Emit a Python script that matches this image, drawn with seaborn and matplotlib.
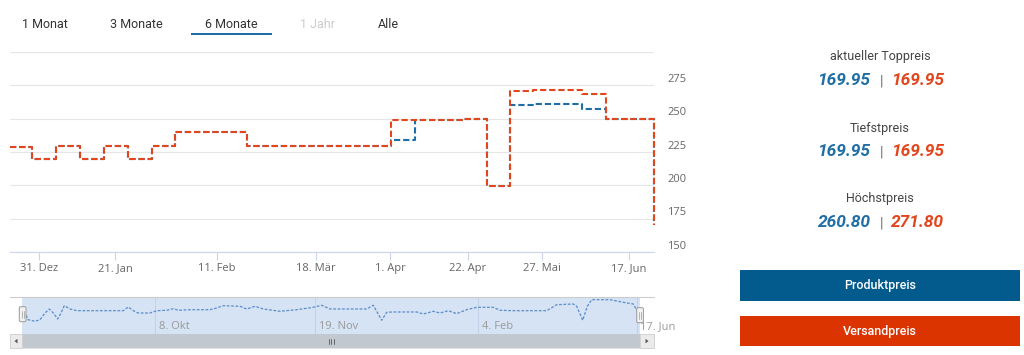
import numpy as np
import pandas as pd
import matplotlib
matplotlib.use("Agg")
import matplotlib.pyplot as plt
import seaborn as sns
from matplotlib.patches import Rectangle, FancyBboxPatch, Polygon

# ---------------- data ----------------
tab_labels = ["1 Monat", "3 Monate", "6 Monate", "1 Jahr", "Alle"]

x_tick_pos = [29, 105, 207, 306, 380, 458, 532, 619]
x_tick_labels = ["31. Dez", "21. Jan", "11. Feb", "18. Mär", "1. Apr", "22. Apr", "27. Mai", "17. Jun"]
y_ticks = [150, 175, 200, 225, 250, 275, 300]

step_x = [0, 22.3, 45.7, 70, 94, 117.7, 142.3, 165, 237.3, 380.7, 405.3, 452.7,
          476.7, 500.3, 523, 571.7, 596, 644]
produktpreis = [228.9, 220.0, 229.7, 220.0, 229.7, 220.0, 229.7, 240.0, 229.2, 233.7, 248.7, 249.5,
                199.7, 260.0, 260.8, 257.0, 249.5, 169.95]
versandpreis = [228.9, 220.0, 229.7, 220.0, 229.7, 220.0, 229.7, 240.0, 229.2, 248.7, 248.7, 249.5,
                199.7, 271.0, 271.8, 268.2, 249.5, 169.95]

nav_x = [23, 28, 35, 40, 45, 49.3, 53.3, 57.7, 60.7, 64.3, 70, 76.7, 123.3, 128.3, 133.3, 138, 150,
         156.7, 166.7, 173.3, 178.3, 190, 210, 216.7, 223.3, 240, 246.7, 255, 263.3, 280, 296.7,
         313.3, 321.7, 330, 346.7, 366.7, 373.3, 381.7, 386.7, 393, 416.7, 423.3, 433.3, 440,
         448.3, 456.7, 466.7, 476.7, 493.3, 500, 513, 546.7, 556.7, 573.3, 576.7, 582.7, 587.3,
         591.7, 610, 623.3, 633.3, 638.3]
nav_y = [243.4, 194.1, 187.9, 194.1, 220.1, 235.6, 220.1, 196.8, 217.4, 248.4, 235.6, 229.0, 229.0,
         243.4, 229.0, 220.1, 220.1, 229.0, 230.6, 236.8, 230.6, 232.9, 232.9, 239.5, 248.4, 246.1,
         235.6, 246.1, 235.6, 226.7, 232.9, 242.2, 250.0, 235.6, 235.6, 235.6, 250.0, 191.8, 222.8,
         224.0, 224.0, 216.2, 226.7, 220.1, 229.0, 217.4, 232.9, 242.2, 242.2, 230.6, 229.0, 229.0,
         252.3, 255.0, 246.1, 191.8, 246.1, 271.7, 271.7, 261.6, 255.0, 220.1]
nav_tick_pos = [155.3, 315.3, 478.3, 637]
nav_tick_labels = ["8. Okt", "19. Nov", "4. Feb", "17. Jun"]

stat_titles = ["aktueller Toppreis", "Tiefstpreis", "Höchstpreis"]
stat_produkt = ["169.95", "169.95", "260.80"]
stat_versand = ["169.95", "169.95", "271.80"]
button_labels = ["Produktpreis", "Versandpreis"]

# ---------------- style ----------------
BLUE = "#1f6ea5"
RED = "#e2461d"
sns.set_theme(style="white")
plt.rcParams["font.family"] = ["Roboto", "DejaVu Sans"]

W, H = 1024, 355
fig = plt.figure(figsize=(W / 100, H / 100), dpi=100)
fig.patch.set_facecolor("white")

def fx(px):
    return px / W

def fy(py):
    return 1 - py / H

# ---------------- main chart ----------------
ax = fig.add_axes([fx(10), fy(252), (654 - 10) / W, 200 / H])
df = pd.DataFrame({"x": step_x, "Produktpreis": produktpreis, "Versandpreis": versandpreis})
sns.lineplot(data=df, x="x", y="Produktpreis", ax=ax, drawstyle="steps-post",
             color=BLUE, linewidth=1.5, zorder=3)
sns.lineplot(data=df, x="x", y="Versandpreis", ax=ax, drawstyle="steps-post",
             color=RED, linewidth=1.5, zorder=4)
for ln in ax.lines:
    ln.set_dashes([3, 1.4])
    ln.set_clip_on(False)

ax.set_xlim(0, 644)
ax.set_ylim(150, 300)
ax.set_yticks(y_ticks)
ax.set_yticklabels([])
ax.tick_params(axis="y", length=0)
ax.grid(axis="y", color="#e6e6e6", linewidth=0.8)
ax.grid(axis="x", visible=False)
ax.set_xticks(x_tick_pos)
ax.set_xticklabels(x_tick_labels, fontsize=8, color="#666666", family=["Open Sans", "DejaVu Sans"])
ax.tick_params(axis="x", length=6, width=0.8, color="#ccd6eb", pad=2, bottom=True)
ax.set_xlabel("")
ax.set_ylabel("")
for s in ["top", "left", "right"]:
    ax.spines[s].set_visible(False)
ax.spines["bottom"].set_color("#ccd6eb")
ax.spines["bottom"].set_linewidth(0.8)
for v in y_ticks[:-1]:
    ax.annotate(str(v), xy=(1, v), xycoords=("axes fraction", "data"),
                xytext=(9.4, 4.3), textcoords="offset points", ha="left", va="center",
                fontsize=8, color="#666666", family=["Open Sans", "DejaVu Sans"])

# ---------------- navigator ----------------
nav = fig.add_axes([fx(22), fy(334.3), (640 - 22) / W, 37 / H])
nav.set_facecolor("#d5e3f4")
for xv in nav_tick_pos:
    nav.axvline(xv, color="#c3d2e8", linewidth=0.8, zorder=1)
sns.lineplot(x=nav_x, y=nav_y, ax=nav, color="#5b8dcb", linewidth=0.9, zorder=3)
nav.lines[-1].set_dashes([2.2, 1.3])
nav.set_xlim(22, 640)
nav.set_ylim(137.4, 281)
nav.set_xticks([])
nav.set_yticks([])
nav.grid(False)
for s in nav.spines.values():
    s.set_visible(False)
for xv, lab in zip(nav_tick_pos, nav_tick_labels):
    nav.annotate(lab, xy=(xv, 0.2), xycoords=("data", "axes fraction"), xytext=(2.5, 0),
                 textcoords="offset points", ha="left", va="center", fontsize=8,
                 color="#999999", family=["Open Sans", "DejaVu Sans"], annotation_clip=False)

# ---------------- overlay (UI chrome, texts) ----------------
ov = fig.add_axes([0, 0, 1, 1], zorder=10)
ov.set_xlim(0, W)
ov.set_ylim(H, 0)
ov.axis("off")
ov.patch.set_alpha(0)

# tabs
tab_cx = [45, 136.5, 231.7, 317.5, 388.3]
for cx, lab in zip(tab_cx, tab_labels):
    ov.text(cx, 24.3, lab, ha="center", va="center", fontsize=9,
            color="#cccccc" if lab == "1 Jahr" else "#333333")
ov.add_patch(Rectangle((191, 33.2), 80.7, 2.1, facecolor=BLUE, edgecolor="none"))

# navigator outline + scrollbar
ov.plot([10, 654], [297.3, 297.3], color="#cccccc", linewidth=0.8)
ov.add_patch(Rectangle((10, 334.3), 644, 13.7, facecolor="#f2f2f2", edgecolor="#e0e0e0", linewidth=0.6))
ov.add_patch(Rectangle((22, 334.3), 618, 13.7, facecolor="#c1c8d0", edgecolor="none"))
ov.add_patch(Rectangle((10, 334.3), 12, 13.7, facecolor="#ebebeb", edgecolor="#d0d0d0", linewidth=0.6))
ov.add_patch(Rectangle((640, 334.3), 14, 13.7, facecolor="#ebebeb", edgecolor="#d0d0d0", linewidth=0.6))
ov.add_patch(Polygon([[17.5, 338.8], [17.5, 343.4], [14.5, 341.1]], closed=True, facecolor="#555555", edgecolor="none"))
ov.add_patch(Polygon([[645.5, 338.8], [645.5, 343.4], [648.5, 341.1]], closed=True, facecolor="#555555", edgecolor="none"))
for gx in [328.5, 331, 333.5]:
    ov.plot([gx, gx], [338.5, 344], color="#555555", linewidth=0.6)

# handles
for hx, hy in [(19.3, 306.7), (636.7, 307.7)]:
    ov.add_patch(FancyBboxPatch((hx, hy), 6.7, 15, boxstyle="round,pad=0,rounding_size=1.5",
                                facecolor="#f2f2f2", edgecolor="#999999", linewidth=0.7))
    for dx in [2.6, 4.3]:
        ov.plot([hx + dx, hx + dx], [hy + 4, hy + 11], color="#aaaaaa", linewidth=0.6)

# right panel
title_y = [56.7, 128.3, 198.3]
num_y = [80.7, 151.7, 222.7]
for t, ty, ny, p, v in zip(stat_titles, title_y, num_y, stat_produkt, stat_versand):
    ov.text(880, ty, t, ha="center", va="center", fontsize=9, color="#444444")
    ov.text(870.5, ny, p, ha="right", va="center", fontsize=12.5, color=BLUE,
            fontweight="bold", fontstyle="italic")
    ov.text(881.7, ny + 1, "|", ha="center", va="center", fontsize=10, color="#666666")
    ov.text(891, ny, v, ha="left", va="center", fontsize=12.5, color=RED,
            fontweight="bold", fontstyle="italic")

# buttons
for (y0, y1), col, lab in zip([(270, 300.7), (316, 346)], ["#035a8d", "#dc3400"], button_labels):
    ov.add_patch(Rectangle((740, y0), 280, y1 - y0, facecolor=col, edgecolor="none"))
    ov.text(880, (y0 + y1) / 2, lab, ha="center", va="center", fontsize=9,
            color="white", fontweight="medium")

fig.savefig("out.png", dpi=100, facecolor="white")
